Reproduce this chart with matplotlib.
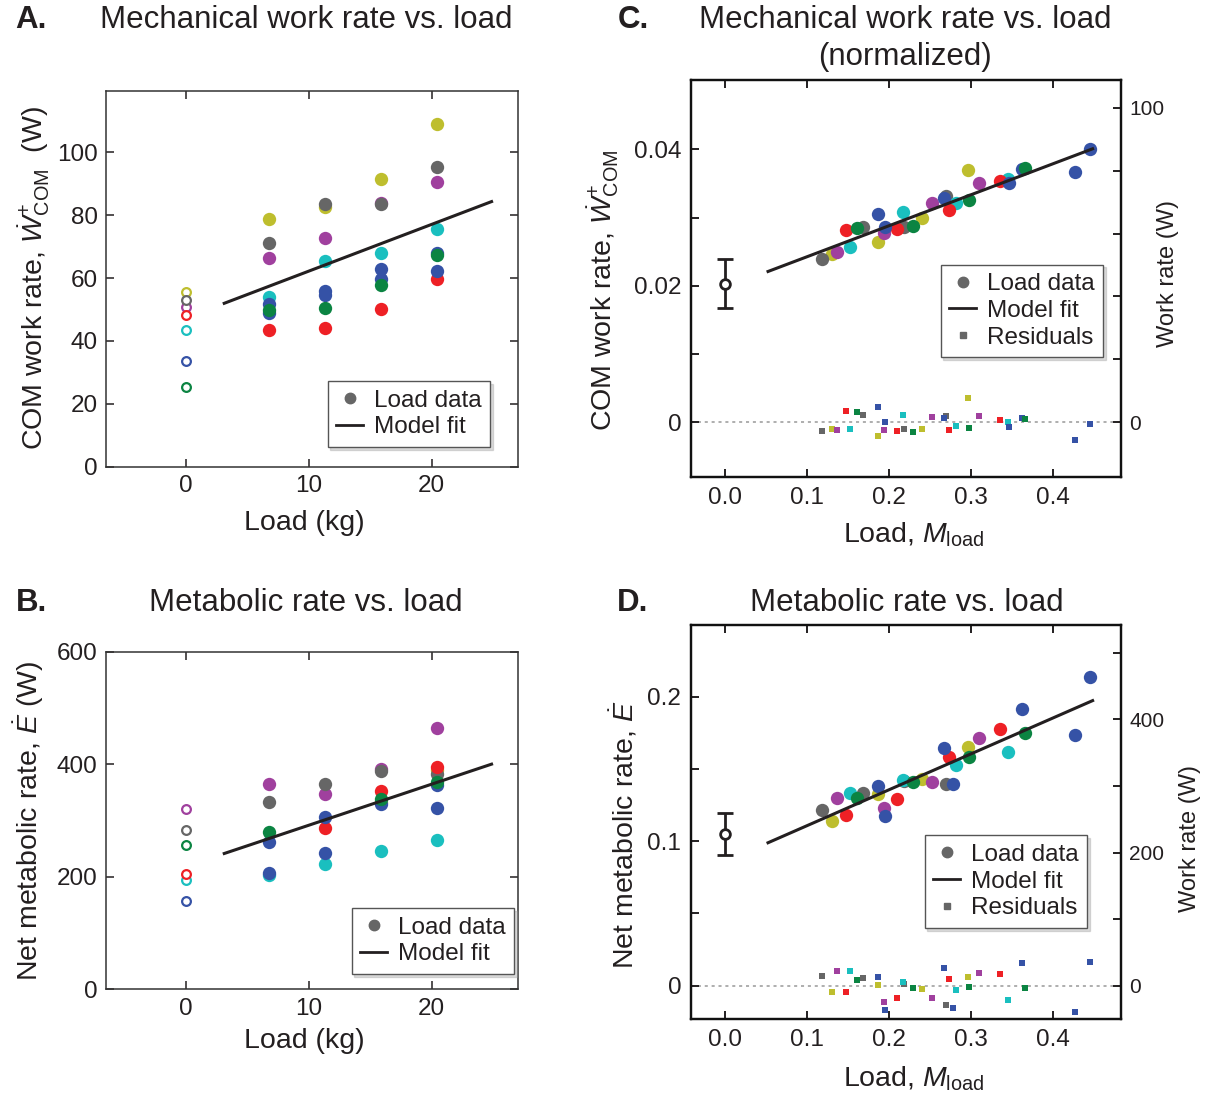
import numpy as np
import matplotlib
matplotlib.use("Agg")
import matplotlib.pyplot as plt
from matplotlib.lines import Line2D

plt.rcParams['font.family'] = ['Liberation Sans', 'DejaVu Sans']
plt.rcParams['mathtext.fontset'] = 'custom'
plt.rcParams['mathtext.rm'] = 'Liberation Sans'
plt.rcParams['mathtext.it'] = 'Liberation Sans:italic'
plt.rcParams['mathtext.bf'] = 'Liberation Sans:bold'
TXT = '#231F20'
plt.rcParams['text.color'] = TXT
plt.rcParams['xtick.color'] = TXT
plt.rcParams['ytick.color'] = TXT

# ---------------- data ----------------
subjects = ['yellow', 'purple', 'gray', 'cyan', 'red', 'blue1', 'blue2', 'green']
colors = {'gray': '#666666', 'yellow': '#BEBE2E', 'purple': '#A0409E', 'cyan': '#1ABFBF',
          'red': '#EE2025', 'green': '#0B8442', 'blue1': '#3552A6', 'blue2': '#3552A6'}

loads_kg = [0, 6.8, 11.3, 15.9, 20.4]

# Panel A: mechanical work rate (W); first value = no load (open circles)
work_W = {
    'gray':   [52.9, 71.2, 83.5, 83.6, 95.4],
    'yellow': [55.6, 78.7, 82.7, 91.6, 108.9],
    'purple': [50.7, 66.4, 72.8, 83.9, 90.6],
    'cyan':   [43.6, 54.0, 65.3, 68.0, 75.7],
    'red':    [48.2, 43.4, 44.0, 50.3, 59.7],
    'green':  [25.2, 49.7, 50.5, 57.9, 67.3],
    'blue1':  [33.5, 51.8, 55.8, 62.9, 68.0],
    'blue2':  [np.nan, 48.9, 54.7, 59.7, 62.4],
}
fitA_x = [3, 25]
fitA_y = [51.8, 84.5]

# Panel B: net metabolic rate (W)
metab_W = {
    'gray':   [283.2, 333.6, 365.0, 388.0, 382.2],
    'yellow': [np.nan, np.nan, np.nan, 332.4, 389.9],
    'purple': [320.6, 364.5, 347.9, 391.0, 465.2],
    'cyan':   [194.3, 202.7, 222.2, 245.3, 265.4],
    'red':    [205.0, np.nan, 286.2, 352.6, 395.9],
    'green':  [256.0, 279.1, np.nan, 337.8, 369.2],
    'blue1':  [156.4, 261.4, 307.0, 328.9, 363.2],
    'blue2':  [np.nan, 207.4, 241.8, np.nan, 323.0],
}
fitB_x = [3, 25]
fitB_y = [240.5, 401.0]

# Panels C/D: normalized load per subject
mload = {
    'gray':   [0.1187, 0.1683, 0.2190, 0.2699],
    'yellow': [0.1305, 0.1865, 0.2410, 0.2967],
    'purple': [0.1366, 0.1939, 0.2528, 0.3105],
    'cyan':   [0.1524, 0.2171, 0.2817, 0.3459],
    'red':    [0.1476, 0.2105, 0.2732, 0.3361],
    'green':  [0.1610, 0.2296, 0.2976, 0.3659],
    'blue1':  [0.1873, 0.2674, 0.3467, 0.4268],
    'blue2':  [0.1955, 0.2790, 0.3622, 0.4451],
}
work_norm = {
    'gray':   [0.02393, 0.02866, 0.02866, 0.03320],
    'yellow': [0.02470, 0.02637, 0.02998, 0.03692],
    'purple': [0.02500, 0.02769, 0.03218, 0.03502],
    'cyan':   [0.02573, 0.03086, 0.03209, 0.03565],
    'red':    [0.02818, 0.02832, 0.03110, 0.03540],
    'green':  [0.02852, 0.02880, 0.03257, 0.03722],
    'blue1':  [0.03052, 0.03282, 0.03502, 0.03668],
    'blue2':  [0.02866, np.nan, 0.03707, 0.04000],
}
work_resid = {
    'gray':   [-0.00122, 0.00112, -0.00093, 0.00098],
    'yellow': [-0.00093, -0.00195, -0.00093, 0.00361],
    'purple': [-0.00107, -0.00107, 0.00083, 0.00098],
    'cyan':   [-0.00093, 0.00112, -0.00049, 0.00010],
    'red':    [0.00171, -0.00122, -0.00107, 0.00029],
    'green':  [0.00147, -0.00137, -0.00078, 0.00054],
    'blue1':  [0.00230, 0.00068, -0.00068, -0.00254],
    'blue2':  [0.00000, np.nan, 0.00068, -0.00020],
}
fitC_x = [0.0512, 0.4504]
fitC_y = [0.02202, 0.04015]
noloadC = (0.0, 0.0203, 0.0036)

metab_norm = {
    'gray':   [0.1216, 0.1331, 0.1416, 0.1393],
    'yellow': [0.1140, 0.1326, 0.1430, 0.1654],
    'purple': [0.1296, 0.1232, 0.1407, 0.1716],
    'cyan':   [0.1336, 0.1423, 0.1525, 0.1617],
    'red':    [0.1183, 0.1294, 0.1585, 0.1774],
    'green':  [0.1296, 0.1407, 0.1585, 0.1751],
    'blue1':  [0.1384, 0.1645, np.nan, 0.1735],
    'blue2':  [0.1176, 0.1393, 0.1915, 0.2134],
}
metab_resid = {
    'gray':   [0.0067, 0.0055, 0.0014, -0.0134],
    'yellow': [-0.0042, 0.0005, -0.0021, 0.0060],
    'purple': [0.0104, -0.0111, -0.0083, 0.0090],
    'cyan':   [0.0104, 0.0028, -0.0028, -0.0097],
    'red':    [-0.0042, -0.0083, 0.0046, 0.0081],
    'green':  [0.0039, -0.0016, -0.0009, -0.0014],
    'blue1':  [0.0060, 0.0122, np.nan, -0.0180],
    'blue2':  [-0.0166, -0.0152, 0.0159, 0.0164],
}
fitD_x = [0.0512, 0.4504]
fitD_y = [0.0985, 0.1977]
noloadD = (0.0, 0.105, 0.0148)

# ---------------- figure ----------------
W, H = 1206, 1094
fig = plt.figure(figsize=(W / 100, H / 100), dpi=100)


def rect(l, t, r, b):
    return [l / W, 1 - b / H, (r - l) / W, (b - t) / H]


def ftext(x, y, s, **kw):
    kw.setdefault('ha', 'center')
    kw.setdefault('va', 'center')
    fig.text(x / W, 1 - y / H, s, **kw)


TICK = 17.5
LAB = 20.5
TIT = 22.5
LEG = 17.5
MS = 9.6
MS_OPEN = 6.3


def style_box(ax, lw, col):
    for sp in ax.spines.values():
        sp.set_linewidth(lw)
        sp.set_color(col)


def legend(ax, anchor, resid=False):
    h = [Line2D([], [], marker='o', ls='none', color='#666666', markersize=7.5),
         Line2D([], [], color=TXT, lw=2)]
    lab = ['Load data', 'Model fit']
    if resid:
        h.append(Line2D([], [], marker='s', ls='none', color='#666666', markersize=4))
        lab.append('Residuals')
    lg = ax.legend(h, lab, loc='lower right', bbox_to_anchor=anchor, borderaxespad=0,
                   fontsize=LEG, frameon=True, fancybox=False, handlelength=1.1,
                   handletextpad=0.45, borderpad=0.35, labelspacing=0.2,
                   shadow={'color': '0.6', 'alpha': 0.35})
    fr = lg.get_frame()
    fr.set_edgecolor('#555555')
    fr.set_linewidth(1.0)
    lg.set_zorder(20)


def kg_panel(ax, data, fit_x, fit_y, ylim, yticks):
    for s in subjects:
        v = data[s]
        c = colors[s]
        ax.plot([loads_kg[0]], [v[0]], 'o', mfc='white', mec=c, mew=1.6, ms=MS_OPEN, zorder=3)
        ax.plot(loads_kg[1:], v[1:], 'o', color=c, ms=MS, mew=0, ls='none', zorder=3)
    ax.plot(fit_x, fit_y, color=TXT, lw=2.2, zorder=5, solid_capstyle='butt')
    ax.set_xlim(-6.51, 27.06)
    ax.set_ylim(*ylim)
    ax.set_xticks([0, 10, 20])
    ax.set_yticks(yticks)
    ax.tick_params(direction='in', top=True, right=True, length=6, width=1.1,
                   labelsize=TICK, pad=6)
    style_box(ax, 1.1, '#333333')


def norm_panel(ax, xs, ys, rs, fit_x, fit_y, noload, ylim, yt, ytl, ylim2, yt2, ytl2):
    ax.axhline(0, color='0.6', lw=1.1, ls=(0, (2, 2.5)), zorder=1)
    for s in subjects:
        c = colors[s]
        ax.plot(xs[s], ys[s], 'o', color=c, ms=MS, mew=0, ls='none', zorder=3)
        ax.plot(xs[s], rs[s], 's', color=c, ms=4.3, mew=0, ls='none', zorder=3)
    ax.plot(fit_x, fit_y, color=TXT, lw=2.2, zorder=5, solid_capstyle='butt')
    ax.errorbar([noload[0]], [noload[1]], yerr=[noload[2]], fmt='o', mfc='white',
                mec=TXT, ecolor=TXT, ms=7, mew=2, elinewidth=2, capsize=5.5,
                capthick=2, zorder=6)
    ax.set_xlim(-0.041, 0.4833)
    ax.set_ylim(*ylim)
    ax.set_xticks([0, 0.1, 0.2, 0.3, 0.4])
    ax.set_xticklabels(['0.0', '0.1', '0.2', '0.3', '0.4'])
    ax.set_yticks(yt)
    ax.set_yticklabels(ytl)
    ax.tick_params(direction='in', top=True, right=False, length=6, width=1.4,
                   labelsize=TICK, pad=7)
    style_box(ax, 1.6, '#111111')
    ax2 = ax.twinx()
    ax2.set_ylim(*ylim2)
    ax2.set_yticks(yt2)
    ax2.set_yticklabels(ytl2)
    ax2.tick_params(direction='in', length=6, width=1.4, labelsize=15, pad=6)
    style_box(ax2, 1.6, '#111111')
    return ax2


# Panel A
axA = fig.add_axes(rect(106, 91, 518.3, 466.7))
kg_panel(axA, work_W, fitA_x, fitA_y, (0, 119.5), [0, 20, 40, 60, 80, 100])
legend(axA, ((490 - 106) / 412.3, (466.7 - 447) / 375.7))

# Panel B
axB = fig.add_axes(rect(106, 651.7, 518.3, 989.3))
kg_panel(axB, metab_W, fitB_x, fitB_y, (0, 600), [0, 200, 400, 600])
legend(axB, ((514 - 106) / 412.3, (989.3 - 974) / 337.6))

# Panel C
axC = fig.add_axes(rect(691, 80, 1121, 477))
norm_panel(axC, mload, work_norm, work_resid, fitC_x, fitC_y, noloadC,
           (-0.00801, 0.05015), [0, 0.01, 0.02, 0.03, 0.04], ['0', '', '0.02', '', '0.04'],
           (-17.4, 108.8), [0, 20, 40, 60, 80, 100], ['0', '', '', '', '', '100'])
legend(axC, ((1103 - 691) / 430, (477 - 357.3) / 397), resid=True)

# Panel D
axD = fig.add_axes(rect(691, 625, 1121, 1019))
norm_panel(axD, mload, metab_norm, metab_resid, fitD_x, fitD_y, noloadD,
           (-0.02304, 0.2496), [0, 0.05, 0.1, 0.15, 0.2], ['0', '', '0.1', '', '0.2'],
           (-50, 541.6), [0, 100, 200, 300, 400, 500], ['0', '', '200', '', '400', ''])
legend(axD, ((1087 - 691) / 430, (1019 - 928) / 394), resid=True)

# ---------------- texts ----------------
ftext(31, 20, 'A.', fontsize=TIT, fontweight='bold')
ftext(306, 20, 'Mechanical work rate vs. load', fontsize=TIT)
ftext(633, 20, 'C.', fontsize=TIT, fontweight='bold')
ftext(905, 20, 'Mechanical work rate vs. load', fontsize=TIT)
ftext(905, 57, '(normalized)', fontsize=TIT)
ftext(31, 603, 'B.', fontsize=TIT, fontweight='bold')
ftext(306, 603, 'Metabolic rate vs. load', fontsize=TIT)
ftext(633, 603, 'D.', fontsize=TIT, fontweight='bold')
ftext(907, 603, 'Metabolic rate vs. load', fontsize=TIT)

ftext(34, 278, r'COM work rate, $\dot{W}^{+}_{\mathrm{COM}}$  (W)', fontsize=LAB, rotation=90)
ftext(29, 821, r'Net metabolic rate, $\dot{E}$ (W)', fontsize=LAB, rotation=90)
ftext(603, 290, r'COM work rate, $\dot{W}^{+}_{\mathrm{COM}}$', fontsize=LAB, rotation=90)
ftext(624, 835, r'Net metabolic rate, $\dot{E}$', fontsize=LAB, rotation=90)
ftext(1168, 273, 'Work rate (W)', fontsize=17, rotation=90)
ftext(1190, 838, 'Work rate (W)', fontsize=17, rotation=90)

ftext(304, 523, 'Load (kg)', fontsize=LAB)
ftext(304, 1041, 'Load (kg)', fontsize=LAB)
ftext(914, 535, r'Load, $M_{\mathrm{load}}$', fontsize=LAB)
ftext(914, 1079, r'Load, $M_{\mathrm{load}}$', fontsize=LAB)

fig.savefig('out.png', dpi=100)
